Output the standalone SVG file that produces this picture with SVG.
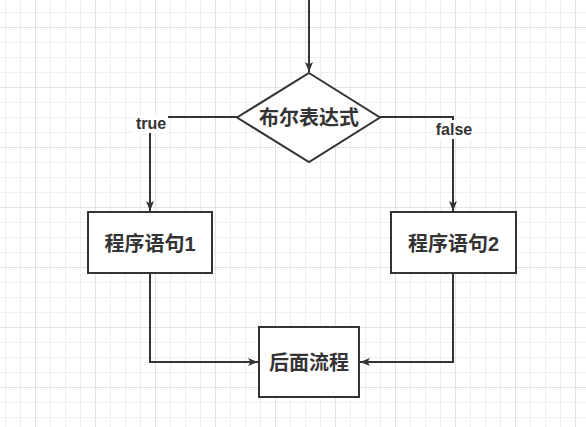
<svg xmlns="http://www.w3.org/2000/svg" width="586" height="427" viewBox="0 0 586 427">
<defs>
<pattern id="grid" x="35" y="27" width="60" height="60" patternUnits="userSpaceOnUse">
<rect x="0" y="0" width="60" height="60" fill="#ffffff"/>
<rect x="15" y="0" width="1" height="60" fill="#efefef"/>
<rect x="30" y="0" width="1" height="60" fill="#efefef"/>
<rect x="45" y="0" width="1" height="60" fill="#efefef"/>
<rect x="0" y="15" width="60" height="1" fill="#efefef"/>
<rect x="0" y="30" width="60" height="1" fill="#efefef"/>
<rect x="0" y="45" width="60" height="1" fill="#efefef"/>
<rect x="0" y="0" width="1" height="60" fill="#e2e2e2"/>
<rect x="0" y="0" width="60" height="1" fill="#e2e2e2"/>
</pattern>
<marker id="arr" viewBox="0 0 10 10" refX="10" refY="5" markerWidth="10" markerHeight="10" markerUnits="userSpaceOnUse" orient="auto">
<path d="M0,1 L10,5 L0,9 L2.5,5 Z" fill="#333333"/>
</marker>
<style>
.shape{fill:#ffffff;stroke:#333333;stroke-width:2}
.edge{fill:none;stroke:#333333;stroke-width:2}
.t{font-family:"Liberation Sans","Noto Sans CJK SC",sans-serif;font-weight:bold;fill:#333333;text-anchor:middle;dominant-baseline:central}
.big{font-size:20px}
.lbl{font-size:16px}
</style>
</defs>
<rect x="0" y="0" width="586" height="427" fill="url(#grid)"/>
<g id="connectors">
<path class="edge" d="M309,0 L309,72" marker-end="url(#arr)"/>
<path class="edge" d="M237,117 L150,117 L150,211" marker-end="url(#arr)"/>
<path class="edge" d="M380,117 L453,117 L453,211" marker-end="url(#arr)"/>
<path class="edge" d="M150,273 L150,362 L258,362" marker-end="url(#arr)"/>
<path class="edge" d="M453,273 L453,362 L360,362" marker-end="url(#arr)"/>
<rect x="133" y="114" width="35" height="19" fill="#ffffff"/>
<text class="t lbl" x="151" y="123">true</text>
<rect x="434" y="120" width="40" height="19" fill="#ffffff"/>
<text class="t lbl" x="454" y="129">false</text>
</g>
<g id="decision">
<polygon class="shape" points="309,73 380,117.5 309,162 237,117.5"/>
<text class="t big" x="309" y="118">布尔表达式</text>
</g>
<g id="stmt1">
<rect class="shape" x="88" y="212" width="124" height="61"/>
<text class="t big" x="150" y="244">程序语句1</text>
</g>
<g id="stmt2">
<rect class="shape" x="391" y="212" width="125" height="61"/>
<text class="t big" x="453.5" y="244">程序语句2</text>
</g>
<g id="after">
<rect class="shape" x="259" y="327" width="100" height="70"/>
<text class="t big" x="309" y="363">后面流程</text>
</g>
</svg>
